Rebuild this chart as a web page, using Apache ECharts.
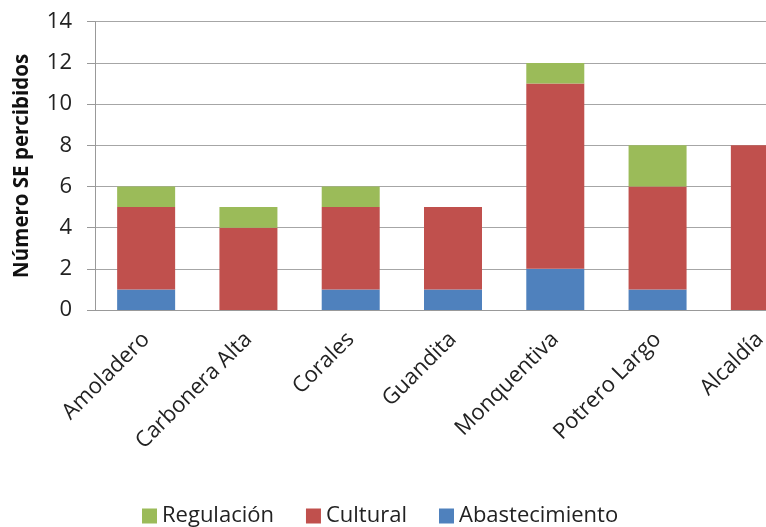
<!DOCTYPE html>
<html>
<head>
<meta charset="utf-8">
<script src="https://cdn.jsdelivr.net/npm/echarts@6/dist/echarts.min.js"></script>
<style>html,body{margin:0;padding:0;background:#fff;}#c{width:766px;height:527px;}</style>
</head>
<body>
<div id="c"></div>
<script>
var categories = ['Amoladero', 'Carbonera Alta', 'Corales', 'Guandita', 'Monquentiva', 'Potrero Largo', 'Alcaldía'];
var abastecimiento = [1, 0, 1, 1, 2, 1, 0];
var cultural = [4, 4, 4, 4, 9, 5, 8];
var regulacion = [1, 1, 1, 0, 1, 2, 0];
var yTicks = [0, 2, 4, 6, 8, 10, 12, 14];

var FONT = 'Open Sans';
var chart = echarts.init(document.getElementById('c'), null, {renderer: 'canvas'});
chart.setOption({
  animation: false,
  backgroundColor: '#ffffff',
  textStyle: {fontFamily: FONT},
  grid: {left: 95, width: 716, top: 21.7, height: 288.3, containLabel: false, outerBoundsMode: 'none'},
  legend: {
    data: ['Regulación', 'Cultural', 'Abastecimiento'],
    top: 500,
    left: 137,
    itemWidth: 15, itemHeight: 15, itemGap: 32,
    icon: 'rect',
    textStyle: {fontFamily: FONT, fontSize: 22, color: '#222'}
  },
  xAxis: {
    type: 'category',
    data: categories,
    axisLine: {lineStyle: {color: '#999', width: 1}},
    axisTick: {show: false},
    axisLabel: {rotate: 45, interval: 0, margin: 26, fontFamily: FONT, fontSize: 22, color: '#222'}
  },
  yAxis: {
    type: 'value',
    min: yTicks[0], max: yTicks[yTicks.length - 1], interval: 2,
    name: 'Número SE percibidos',
    nameLocation: 'middle',
    nameGap: 62,
    nameRotate: 90,
    nameTextStyle: {fontFamily: FONT, fontSize: 20.5, fontWeight: 'bold', color: '#111'},
    axisLine: {show: true, lineStyle: {color: '#999', width: 1}},
    axisTick: {show: true, length: 8, lineStyle: {color: '#999'}},
    axisLabel: {fontFamily: FONT, fontSize: 22, color: '#222', margin: 23},
    splitLine: {lineStyle: {color: '#a6a6a6', width: 1}}
  },
  series: [
    {name: 'Abastecimiento', type: 'bar', stack: 's', data: abastecimiento, barWidth: 58, itemStyle: {color: '#4F81BD'}},
    {name: 'Cultural', type: 'bar', stack: 's', data: cultural, barWidth: 58, itemStyle: {color: '#C0504D'}},
    {name: 'Regulación', type: 'bar', stack: 's', data: regulacion, barWidth: 58, itemStyle: {color: '#9BBB59'}}
  ]
});
</script>
</body>
</html>
